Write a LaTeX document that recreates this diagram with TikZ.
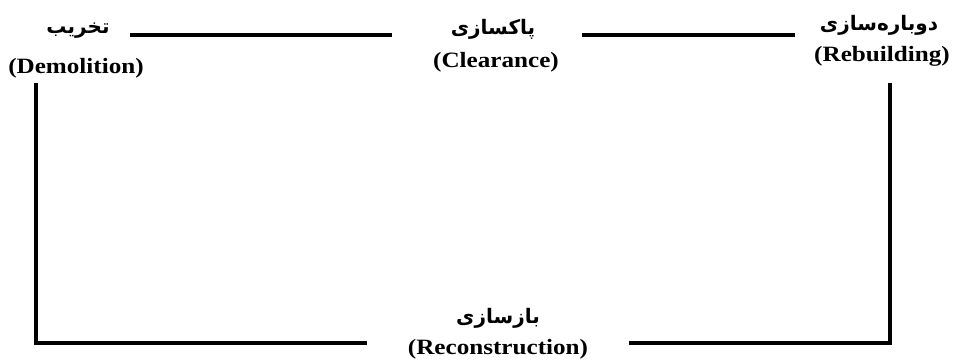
\documentclass[tikz,border=0pt]{standalone}
\usepackage{fontspec}
\setmainfont{Liberation Serif}
\newfontfamily\enfont{Liberation Serif}[FakeStretch=1.15]
\newfontfamily\fafont[Script=Arabic]{DejaVu Sans}
\TeXXeTstate=1
\tikzset{
  en/.style={inner sep=0pt, font=\enfont\bfseries\fontsize{16.4}{18}\selectfont},
  fa/.style={inner sep=0pt, font=\fafont\bfseries\fontsize{15}{17}\selectfont},
  conn/.style={line width=2.3pt, black},
}
\begin{document}
\begin{tikzpicture}[x=0.75pt,y=-0.75pt]
\useasboundingbox (0,0) rectangle (955,363);
% labels
\node[fa] (demP) at (78,31) {\beginR تخریب\endR};
\node[en] (demE) at (76,68) {(Demolition)};
\node[fa] (clrP) at (493,29) {\beginR پاکسازی\endR};
\node[en] (clrE) at (496,62) {(Clearance)};
\node[fa] (rebP) at (879,25) {\beginR دوباره‌سازی\endR};
\node[en] (rebE) at (882,56) {(Rebuilding)};
\node[fa] (recP) at (498,318) {\beginR بازسازی\endR};
\node[en] (recE) at (498,349) {(Reconstruction)};
% connector ends
\coordinate (d1) at (130,35);
\coordinate (c1) at (392,35);
\coordinate (c2) at (582,35);
\coordinate (r1) at (795,35);
\coordinate (r2) at (890,83);
\coordinate (rc2) at (629,343);
\coordinate (d2) at (36,83);
\coordinate (rc1) at (367,343);
\draw[conn] (d1) -- (c1);
\draw[conn] (c2) -- (r1);
\draw[conn] (r2) |- (rc2);
\draw[conn] (d2) |- (rc1);
\end{tikzpicture}
\end{document}
